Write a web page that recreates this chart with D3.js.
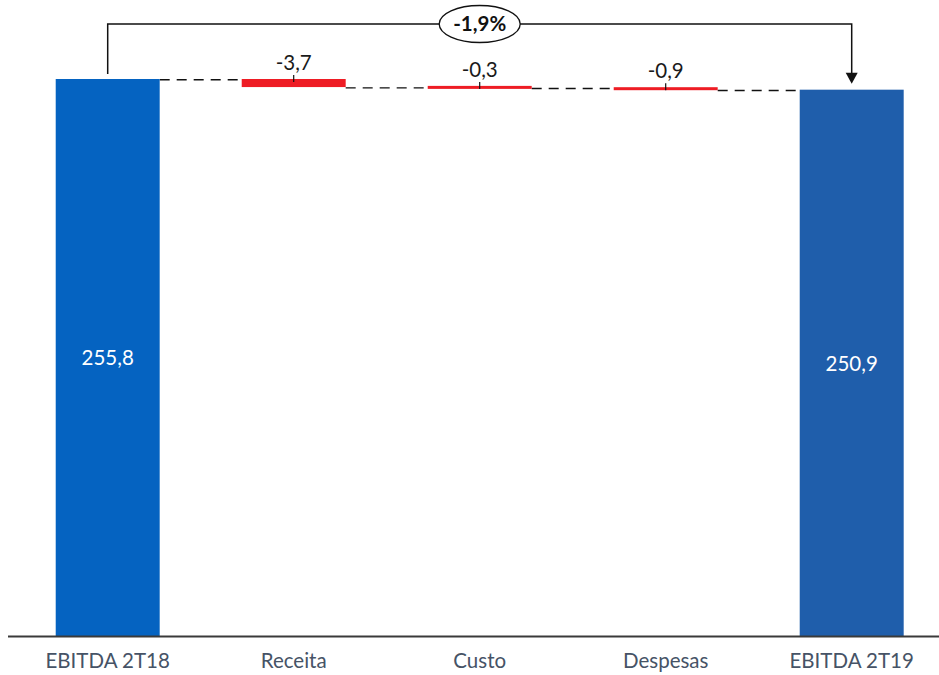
<!DOCTYPE html>
<html>
<head>
<meta charset="utf-8">
<script src="https://cdn.jsdelivr.net/npm/d3@7/dist/d3.min.js"></script>
<style>
  html, body { margin: 0; padding: 0; background: #fff; }
  svg { display: block; font-family: Lato, "Open Sans", sans-serif; }
</style>
</head>
<body>
<svg id="chart" width="939" height="675"></svg>
<script>
// EBITDA bridge 2T18 -> 2T19 (R$ milhões)
const categories = ["EBITDA 2T18", "Receita", "Custo", "Despesas", "EBITDA 2T19"];
const values     = [255.8, -3.7, -0.3, -0.9, 250.9];
const kinds      = ["total", "delta", "delta", "delta", "total"];
const variationLabel = "-1,9%";

const totalColors = ["#0563c1", "#1f5eab"];
const deltaColor = "#ee1c24";

const svg = d3.select("#chart");
const W = 939, H = 675;

const x = d3.scaleBand()
  .domain(categories)
  .range([14.7, 944.7])
  .paddingInner(0.441)
  .paddingOuter(0.2205);

const y = d3.scaleLinear()
  .domain([0, 255.8])
  .range([636.5, 79]);

// Brazilian number format: comma decimal, plain hyphen minus
const ptBR = d3.formatLocale({
  decimal: ",", thousands: ".", grouping: [3],
  currency: ["R$", ""], minus: "-"
});
const fmt = ptBR.format(".1f");

// Build running totals for the waterfall
let running = 0;
const steps = categories.map((c, i) => {
  let start, end;
  if (kinds[i] === "total") {
    start = 0; end = values[i]; running = values[i];
  } else {
    start = running; end = running + values[i]; running = end;
  }
  return { cat: c, value: values[i], kind: kinds[i], start, end, level: running };
});

// Connector dashed lines between consecutive bars at running level
for (let i = 0; i < steps.length - 1; i++) {
  const lvl = steps[i].level;
  svg.append("line")
    .attr("x1", x(steps[i].cat) + x.bandwidth())
    .attr("x2", x(steps[i + 1].cat))
    .attr("y1", y(lvl) + 0.8).attr("y2", y(lvl) + 0.8)
    .attr("stroke", "#111")
    .attr("stroke-width", 1.4)
    .attr("stroke-dasharray", "10,7");
}

// Bars
let totalIdx = 0;
steps.forEach(s => {
  const y0 = y(s.start), y1 = y(s.end);
  if (s.kind === "total") {
    const col = totalColors[totalIdx++];
    svg.append("rect")
      .attr("x", x(s.cat)).attr("width", x.bandwidth())
      .attr("y", y1).attr("height", y0 - y1)
      .attr("fill", col);
    svg.append("text")
      .attr("x", x(s.cat) + x.bandwidth() / 2)
      .attr("y", (y0 + y1) / 2 + 7.5)
      .attr("text-anchor", "middle")
      .attr("fill", "#fff")
      .attr("font-size", "20.5px")
      .text(fmt(s.value));
  } else {
    const h = Math.abs(y1 - y0);
    const hh = Math.max(h, 3);
    const top = (y0 + y1) / 2 - hh / 2;
    const cx = x(s.cat) + x.bandwidth() / 2;
    svg.append("rect")
      .attr("x", x(s.cat)).attr("width", x.bandwidth())
      .attr("y", top).attr("height", hh)
      .attr("fill", deltaColor);
    svg.append("line")
      .attr("x1", cx).attr("x2", cx)
      .attr("y1", top - 4).attr("y2", top + 3)
      .attr("stroke", "#111").attr("stroke-width", 1.2);
    svg.append("text")
      .attr("x", cx)
      .attr("y", top - 9)
      .attr("text-anchor", "middle")
      .attr("fill", "#1a1a1a")
      .attr("font-size", "20.5px")
      .text(fmt(s.value));
  }
});

// Category axis
const axis = d3.axisBottom(x).tickSize(0).tickPadding(0);
const gAxis = svg.append("g").attr("transform", `translate(0,${y(0)})`).call(axis);
gAxis.select(".domain").remove();
gAxis.selectAll("text")
  .attr("dy", null)
  .attr("y", 31.5)
  .attr("fill", "#465366")
  .attr("font-size", "20.5px")
  .attr("font-family", "Lato, sans-serif");
svg.append("line")
  .attr("x1", 8).attr("x2", W)
  .attr("y1", y(0)).attr("y2", y(0))
  .attr("stroke", "#3a3a3a").attr("stroke-width", 1.8);

// Overall variation bracket from first total to last total
const xa = x(categories[0]) + x.bandwidth() / 2;
const xb = x(categories[categories.length - 1]) + x.bandwidth() / 2;
const yTop = 24;
const aStart = y(values[0]) - 5;
const aEnd = y(values[values.length - 1]) - 6;
svg.append("path")
  .attr("d", `M${xa},${aStart} V${yTop} H${xb} V${aEnd - 10}`)
  .attr("fill", "none")
  .attr("stroke", "#111")
  .attr("stroke-width", 1.5);
svg.append("path")
  .attr("d", `M${xb - 6},${aEnd - 11} L${xb + 6},${aEnd - 11} L${xb},${aEnd} Z`)
  .attr("fill", "#111");

const ex = (xa + xb) / 2;
svg.append("ellipse")
  .attr("cx", ex).attr("cy", yTop)
  .attr("rx", 40.5).attr("ry", 18.5)
  .attr("fill", "#fff")
  .attr("stroke", "#111")
  .attr("stroke-width", 1.3);
svg.append("text")
  .attr("x", ex).attr("y", yTop + 7)
  .attr("text-anchor", "middle")
  .attr("font-weight", "bold")
  .attr("font-size", "20.5px")
  .attr("fill", "#111")
  .text(variationLabel);
</script>
</body>
</html>
